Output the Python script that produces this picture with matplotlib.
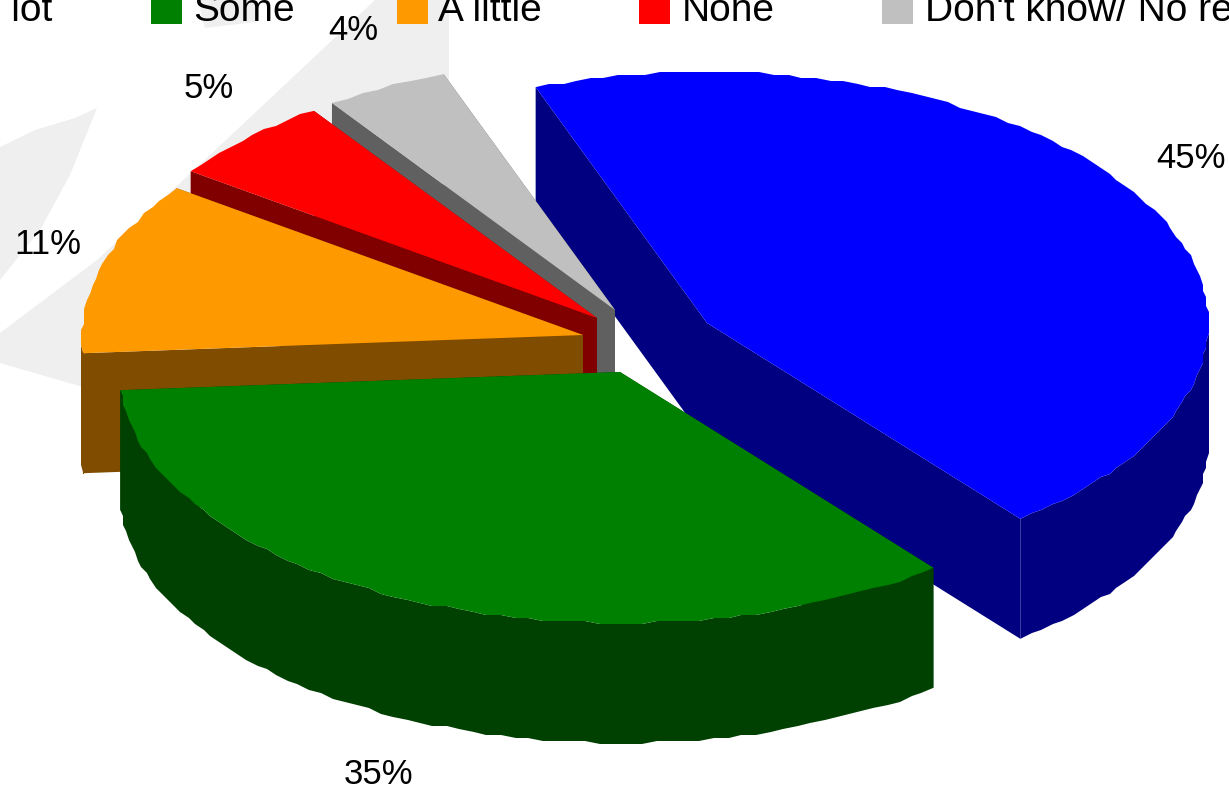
import matplotlib
matplotlib.use("Agg")
import matplotlib.pyplot as plt
from matplotlib.patches import Polygon, Rectangle
import numpy as np

# chart data
categories = ["A lot", "Some", "A little", "None", "Don't know/ No response"]
percent_labels = [45, 35, 11, 5, 4]
# slice sizes, the labels above are rounded
slice_sizes = [44.8, 34.6, 11.1, 5.5, 4.0]

top_colors = ["#0000ff", "#008000", "#ff9900", "#ff0000", "#c0c0c0"]
side_colors = ["#000080", "#004000", "#804d00", "#800000", "#606060"]

# pie geometry, in pixels
apex_x = [707, 620, 583, 597, 615]
apex_y = [323, 372, 335, 318, 310]
rx = 501
ry = 251
depth = 120
start_angle = 110
draw_order = [0, 4, 3, 2, 1]

plt.rcParams["font.family"] = ["Liberation Sans", "DejaVu Sans"]

fig = plt.figure(figsize=(12.29, 7.94), dpi=100)
ax = fig.add_axes([0, 0, 1, 1])
ax.set_xlim(0, 1229)
ax.set_ylim(794, 0)
ax.axis("off")

# faint shapes behind the pie
faint = "#efefef"
ax.add_patch(Polygon([(0, 333), (97, 260), (192, 172), (375, 0), (449, 0), (449, 80),
                      (400, 220), (83, 387), (0, 363)], fc=faint, ec="none", zorder=1))
ax.add_patch(Polygon([(0, 147), (35, 130), (75, 118), (97, 108), (70, 175), (40, 230),
                      (0, 280)], fc=faint, ec="none", zorder=1))
ax.add_patch(Polygon([(198, 0), (255, 0), (255, 22), (205, 28)], fc=faint, ec="none", zorder=1))


def rim(cx, cy, a0, a1):
    # the outline is stepped in the original, so snap it to a coarse grid
    t = np.radians(np.linspace(a0, a1, max(int(abs(a1 - a0) / 1.6), 2)))
    x = cx + rx * np.cos(t)
    y = cy - ry * np.sin(t)
    x[1:-1] = np.round(x[1:-1] / 3) * 3
    y[1:-1] = np.round(y[1:-1] / 3) * 3
    return x, y


# angles run clockwise from the start angle
edges = start_angle - np.cumsum([0] + slice_sizes) * 3.6
z = 2
for i in draw_order:
    cx, cy = apex_x[i], apex_y[i]
    x, y = rim(cx, cy, edges[i], edges[i + 1])

    # cut faces
    for px, py in [(x[0], y[0]), (x[-1], y[-1])]:
        ax.add_patch(Polygon([(cx, cy), (px, py), (px, py + depth), (cx, cy + depth)],
                             fc=side_colors[i], ec="none", zorder=z))
    # outer wall, only the front half of the rim shows
    front = np.sin(np.radians(np.linspace(edges[i], edges[i + 1], len(x)))) <= 0.02
    if front.any():
        wx, wy = x[front], y[front]
        ax.add_patch(Polygon(np.column_stack([np.r_[wx, wx[::-1]],
                                              np.r_[wy, wy[::-1] + depth]]),
                             fc=side_colors[i], ec="none", zorder=z))
    # top
    ax.add_patch(Polygon(np.column_stack([np.r_[cx, x], np.r_[cy, y]]),
                         fc=top_colors[i], ec="none", zorder=z + 1))
    z += 2

# the thin brown edge left of the orange slice
ax.plot([82.5, 82.5], [350, 473], color="#804d00", lw=0.8, zorder=3)

# percent labels
label_x = [1191, 378, 48, 209, 353]
label_y = [158, 775, 245, 88, 30]
for i in range(len(percent_labels)):
    ax.text(label_x[i], label_y[i], "%d%%" % percent_labels[i], fontsize=25, color="black",
            ha="center", va="center", zorder=20)

# legend, cut off by the top of the image
# wider gap pushes the A out of the picture, only "lot" shows
ax.text(52, 21, categories[0].replace(" ", "  "), fontsize=28, ha="right", va="baseline", zorder=20)
swatch_x = [151, 397, 639, 882]
text_x = [193, 438, 682, 925]
for i in range(4):
    ax.add_patch(Rectangle((swatch_x[i], 0), 31, 24, fc=top_colors[i + 1], ec="none", zorder=20))
    ax.text(text_x[i], 21, categories[i + 1], fontsize=28, ha="left", va="baseline", zorder=20)

fig.savefig("out.png", dpi=100)
